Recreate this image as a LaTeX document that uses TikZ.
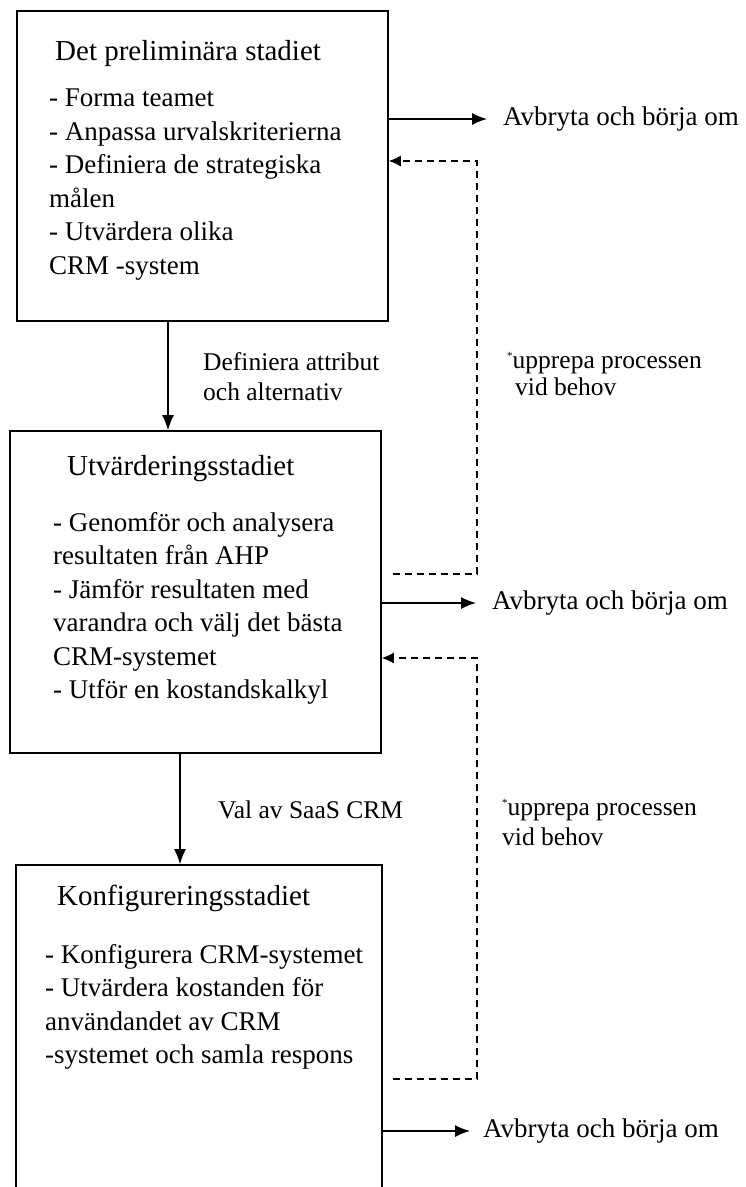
\documentclass[tikz,border=0pt]{standalone}
\usepackage{fontspec}
\setmainfont{Liberation Serif}
\usetikzlibrary{arrows.meta}

\begin{document}
\begin{tikzpicture}[x=1pt,y=-1pt]
\tikzset{stadie/.style={draw, line width=1.6pt, inner sep=0pt},
  rubrik/.style={anchor=north west, inner sep=0pt, font=\fontsize{29}{33}\selectfont},
  punkter/.style={anchor=north west, inner sep=0pt, align=left, font=\fontsize{27}{33.5}\selectfont},
  etikett/.style={anchor=north west, inner sep=0pt, align=left, font=\fontsize{25.5}{30}\selectfont},
  avbryt/.style={anchor=west, inner sep=0pt, font=\fontsize{27}{33}\selectfont},
  pil/.style={-{Latex[length=15pt,width=12pt]}, line width=1.3pt},
  retur/.style={-{Latex[length=12pt,width=11pt]}, line width=1.3pt, dash pattern=on 7pt off 5pt}}
\useasboundingbox (0,0) rectangle (746,1187);
\clip (0,0) rectangle (746,1187);
\node[stadie, minimum width=371pt, minimum height=310pt] (S1) at (202.5,166) {};
\node[stadie, minimum width=371pt, minimum height=322pt] (S2) at (195.5,592) {};
\node[stadie, minimum width=366pt, minimum height=345pt] (S3) at (199,1037.5) {};
\node[rubrik] (T1) at (55,40) {Det preliminära stadiet};
\node[punkter] (P1) at (49,89) {- Forma teamet\\- Anpassa urvalskriterierna\\- Definiera de strategiska\\målen\\- Utvärdera olika\\CRM -system};
\node[rubrik] (T2) at (67,455) {Utvärderingsstadiet};
\node[punkter] (P2) at (53,512) {- Genomför och analysera\\resultaten från AHP\\- Jämför resultaten med\\varandra och välj det bästa\\CRM-systemet\\- Utför en kostandskalkyl};
\node[rubrik] (T3) at (57,885) {Konfigureringsstadiet};
\node[punkter] (P3) at (45,944) {- Konfigurera CRM-systemet\\- Utvärdera kostanden för\\användandet av CRM\\-systemet och samla respons};
\node[etikett] (L1) at (203,352) {Definiera attribut\\och alternativ};
\node[etikett] (L2) at (218,801) {Val av SaaS CRM};
\node[etikett] (U1) at (507,352) {\raisebox{9pt}{\fontsize{11}{11}\selectfont*}upprepa processen\\[-3pt]\hspace{8pt}vid behov};
\node[etikett] (U2) at (502,799) {\raisebox{9pt}{\fontsize{11}{11}\selectfont*}upprepa processen\\vid behov};
\node[avbryt] (A1) at (503,119) {Avbryta och börja om};
\node[avbryt] (A2) at (492,603) {Avbryta och börja om};
\node[avbryt] (A3) at (483,1131) {Avbryta och börja om};
\coordinate (R1a) at (477,574);
\coordinate (R1b) at (477,161);
\coordinate (R2a) at (477,1079);
\coordinate (R2b) at (477,658);
\draw[pil] ([xshift=-34.5pt]S1.south) -- ([xshift=-34.5pt]S1.south |- S2.north);
\draw[pil] ([xshift=-15.5pt]S2.south) -- ([xshift=-15.5pt]S2.south |- S3.north);
\draw[pil] (S1.east |- A1) -- ([xshift=-16pt]A1.west);
\draw[pil] (S2.east |- A2) -- ([xshift=-16pt]A2.west);
\draw[pil] (S3.east |- A3) -- ([xshift=-13pt]A3.west);
\draw[retur] ([xshift=11pt]S2.east |- R1a) -- (R1a) -- (R1b) -- (S1.east |- R1b);
\draw[retur] ([xshift=10pt]S3.east |- R2a) -- (R2a) -- (R2b) -- (S2.east |- R2b);
\end{tikzpicture}
\end{document}
